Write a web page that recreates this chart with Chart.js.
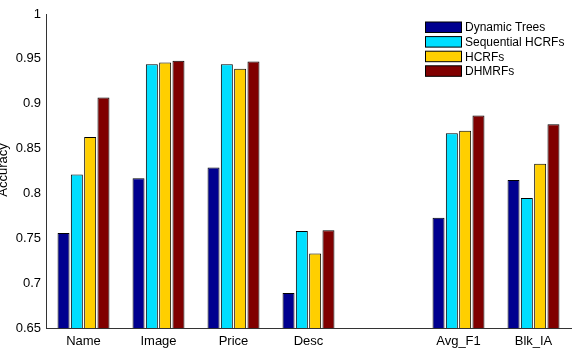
<!DOCTYPE html>
<html lang="en">
<head>
    <meta charset="UTF-8">
    <title>Accuracy by field</title>
    <script src="https://cdn.jsdelivr.net/npm/chart.js"></script>
    <style>
        html, body { margin: 0; padding: 0; background: #fff; }
        #wrap { width: 574px; height: 360px; }
    </style>
</head>
<body>
    <div id="wrap"><canvas id="accChart" width="574" height="360"></canvas></div>
    <script>
        // categories (empty slot between Desc and Avg_F1, as in the original)
        const categories = ['Name', 'Image', 'Price', 'Desc', '', 'Avg_F1', 'Blk_IA'];
        const seriesNames = ['Dynamic Trees', 'Sequential HCRFs', 'HCRFs', 'DHMRFs'];

        const dynamicTrees   = [0.756, 0.817, 0.829, 0.689, null, 0.773, 0.815];
        const sequentialHcrf = [0.821, 0.944, 0.944, 0.758, null, 0.867, 0.795];
        const hcrf           = [0.863, 0.946, 0.939, 0.733, null, 0.870, 0.833];
        const dhmrf          = [0.907, 0.948, 0.947, 0.759, null, 0.887, 0.877];

        const yTicks = [0.65, 0.7, 0.75, 0.8, 0.85, 0.9, 0.95, 1];

        const colors = ['#00008f', '#00dfff', '#ffcf00', '#800000'];
        const font = 'Liberation Sans, Arial, sans-serif';

        const seriesData = [dynamicTrees, sequentialHcrf, hcrf, dhmrf];

        // legend drawn in the upper right, like the matlab one
        const boxLegend = {
            id: 'boxLegend',
            afterDraw(chart) {
                const ctx = chart.ctx;
                ctx.save();
                ctx.font = '12px ' + font;
                ctx.textBaseline = 'middle';
                chart.data.datasets.forEach((ds, i) => {
                    const y = 22 + i * 14.6;
                    ctx.fillStyle = ds.backgroundColor;
                    ctx.fillRect(425.5, y, 36, 10.5);
                    ctx.strokeStyle = '#000';
                    ctx.lineWidth = 1;
                    ctx.strokeRect(425.5, y, 36, 10.5);
                    ctx.fillStyle = '#000';
                    ctx.fillText(ds.label, 465, y + 6);
                });
                ctx.restore();
            }
        };

        // y title sits half off the left edge in the reference
        const yTitle = {
            id: 'yTitle',
            afterDraw(chart) {
                const ctx = chart.ctx;
                ctx.save();
                ctx.translate(3, 170);
                ctx.rotate(-Math.PI / 2);
                ctx.font = '13px ' + font;
                ctx.fillStyle = '#000';
                ctx.textAlign = 'center';
                ctx.textBaseline = 'middle';
                ctx.fillText('Accuracy', 0, 0);
                ctx.restore();
            }
        };

        const ctx = document.getElementById('accChart').getContext('2d');
        new Chart(ctx, {
            type: 'bar',
            data: {
                labels: categories,
                datasets: seriesData.map((d, i) => ({
                    label: seriesNames[i],
                    data: d,
                    backgroundColor: colors[i],
                    borderColor: '#000',
                    borderWidth: 1,
                    categoryPercentage: 0.71,
                    barPercentage: 0.9
                }))
            },
            options: {
                responsive: false,
                animation: false,
                layout: { padding: { top: 14, right: 3, left: 0, bottom: 0 } },
                plugins: {
                    legend: { display: false },
                    tooltip: { enabled: false }
                },
                scales: {
                    x: {
                        grid: { display: false, drawTicks: false },
                        border: { color: '#333', width: 1 },
                        ticks: { color: '#000', font: { family: font, size: 13 }, padding: 6 },
                        afterFit: s => { s.height = 32; }
                    },
                    y: {
                        min: 0.65,
                        max: 1,
                        afterBuildTicks: s => { s.ticks = yTicks.map(v => ({ value: v })); },
                        grid: { display: false, drawTicks: false },
                        border: { color: '#333', width: 1 },
                        ticks: {
                            color: '#000',
                            font: { family: font, size: 13 },
                            padding: 5,
                            callback: v => String(+v.toFixed(2))
                        },
                        afterFit: s => { s.width = 46; }
                    }
                }
            },
            plugins: [boxLegend, yTitle]
        });
    </script>
</body>
</html>
